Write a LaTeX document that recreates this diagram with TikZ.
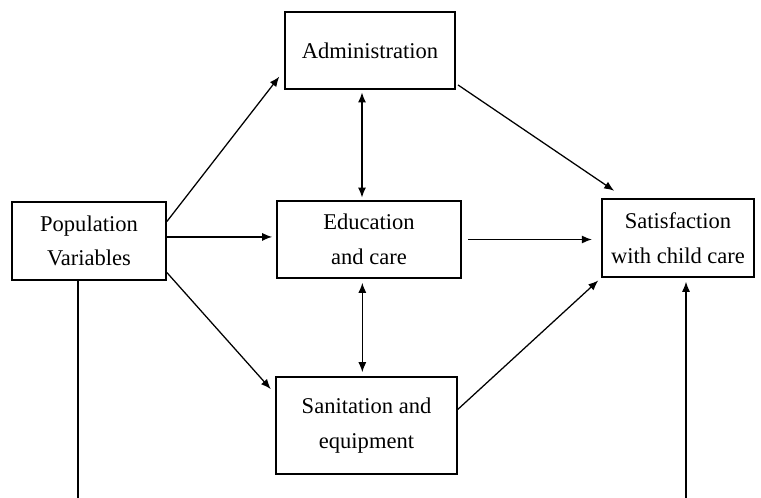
\documentclass[tikz,border=0pt]{standalone}
\usepackage{xcolor}
\usepackage{fontspec}
\setmainfont{Liberation Serif}
\usetikzlibrary{arrows.meta}

\tikzset{
  box/.style={draw, line width=1.2pt, align=center, inner sep=2pt,
    font=\fontsize{16.9}{26}\selectfont},
  link/.style={line width=0.95pt}
}

\begin{document}
\begin{tikzpicture}[x=0.75pt, y=-0.75pt, >={Latex[length=7.5pt,width=6pt]}]
				\useasboundingbox (0,0) rectangle (761,497);
				\node[box, minimum width=127.5pt, minimum height=57.75pt] (admin) at (370,50.5) {Administration};
				\node[box, minimum width=115.5pt, minimum height=58.5pt] (pop) at (89,241) {Population\\Variables};
				\node[box, minimum width=138pt, minimum height=57.75pt] (edu) at (369,239.5) {Education\\and care};
				\node[box, minimum width=135.75pt, minimum height=72.75pt] (san) at (366.5,425.5) {Sanitation and\\equipment};
				\node[box, minimum width=114pt, minimum height=58.5pt] (sat) at (678,238) {Satisfaction\\with child care};
				\draw[link, ->, shorten >=6pt] (pop.14) -- (admin.193);
				\draw[link, ->, shorten >=3pt] (pop.3) -- (pop.3 -| edu.west);
				\draw[link, ->, shorten >=5pt] (pop.-22) -- (san.161);
				\draw[link, ->, shorten <=2pt, shorten >=10pt] (admin.-21.5) -- (sat.143);
				\draw[link, ->, shorten <=5pt, shorten >=7pt] (edu.east) -- (edu.east -| sat.west);
				\draw[link, ->, shorten >=3pt] (san.10) -- (sat.south west);
				\draw[link, <->, shorten <=2pt, shorten >=2pt] ([xshift=-6pt]admin.south) -- ([xshift=-6pt]admin.south |- edu.north);
				\draw[link, <->, shorten <=3pt, shorten >=3pt] ([xshift=-5pt]edu.south) -- ([xshift=-5pt]edu.south |- san.north);
				\draw[line width=0.8pt, ->, shorten >=3pt] ([xshift=-8.25pt]pop.south) -- ++(0,219.5) -| ([xshift=6pt]sat.south);
			\end{tikzpicture}
\end{document}
